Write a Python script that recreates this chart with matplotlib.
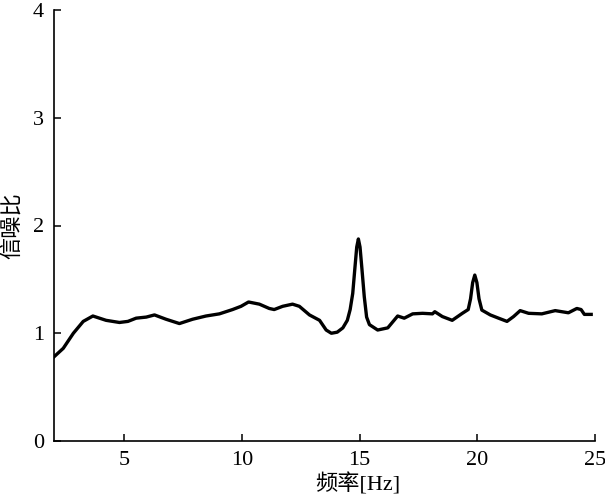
import matplotlib
matplotlib.use("Agg")
import matplotlib.pyplot as plt

# signal-to-noise ratio vs frequency
freq = [2.0, 2.4, 2.83, 3.25, 3.66, 4.22, 4.79, 5.15, 5.5, 5.93, 6.28, 6.77, 7.34,
        7.9, 8.47, 9.04, 9.6, 9.96, 10.28, 10.74, 11.16, 11.37, 11.73, 12.15, 12.44,
        12.87, 13.3, 13.58, 13.8, 14.05, 14.29, 14.48, 14.6, 14.71, 14.8, 14.88, 14.95,
        15.02, 15.1, 15.2, 15.3, 15.42, 15.77, 16.2, 16.62, 16.9, 17.26, 17.68, 18.1,
        18.2, 18.52, 18.94, 19.37, 19.62, 19.72, 19.81, 19.9, 19.99, 20.08, 20.2,
        20.56, 20.91, 21.27, 21.55, 21.83, 22.19, 22.75, 23.32, 23.88, 24.24, 24.42,
        24.56, 24.85]
snr = [0.78, 0.86, 1.0, 1.11, 1.16, 1.12, 1.10, 1.11, 1.14, 1.15, 1.17, 1.13, 1.09,
       1.13, 1.16, 1.18, 1.22, 1.25, 1.29, 1.27, 1.23, 1.22, 1.25, 1.27, 1.25,
       1.17, 1.12, 1.03, 1.0, 1.01, 1.05, 1.12, 1.22, 1.37, 1.6, 1.8, 1.875,
       1.8, 1.6, 1.34, 1.15, 1.08, 1.03, 1.05, 1.16, 1.14, 1.18, 1.185, 1.18,
       1.20, 1.155, 1.12, 1.185, 1.22, 1.32, 1.47, 1.54, 1.47, 1.32, 1.215,
       1.17, 1.14, 1.11, 1.155, 1.21, 1.185, 1.18, 1.21, 1.19, 1.23, 1.22,
       1.175, 1.175]

xticks = [5, 10, 15, 20, 25]
yticks = [0, 1, 2, 3, 4]

FONT = ["Liberation Serif", "Noto Sans CJK SC"]
plt.rcParams["font.family"] = FONT

fig = plt.figure(figsize=(6.05, 5.0), dpi=100)
ax = fig.add_axes([0.089, 0.118, 0.894, 0.862])
ax.plot(freq, snr, color="black", linewidth=2.4, solid_joinstyle="round")

ax.set_xlim(2, 25)
ax.set_ylim(0, 4)
ax.set_xticks(xticks)
ax.set_yticks(yticks)
ax.spines["top"].set_visible(False)
ax.spines["right"].set_visible(False)
for s in ("left", "bottom"):
    ax.spines[s].set_linewidth(1.2)
ax.tick_params(direction="in", length=5, width=1.1, labelsize=16, pad=7)

ax.set_xlabel("频率[Hz]", fontsize=16, family=FONT)
ax.set_ylabel("信噪比", fontsize=16, family=FONT)
ax.xaxis.set_label_coords(0.562, -0.075)
ax.yaxis.set_label_coords(-0.055, 0.5)

fig.savefig("out.png", dpi=100)
